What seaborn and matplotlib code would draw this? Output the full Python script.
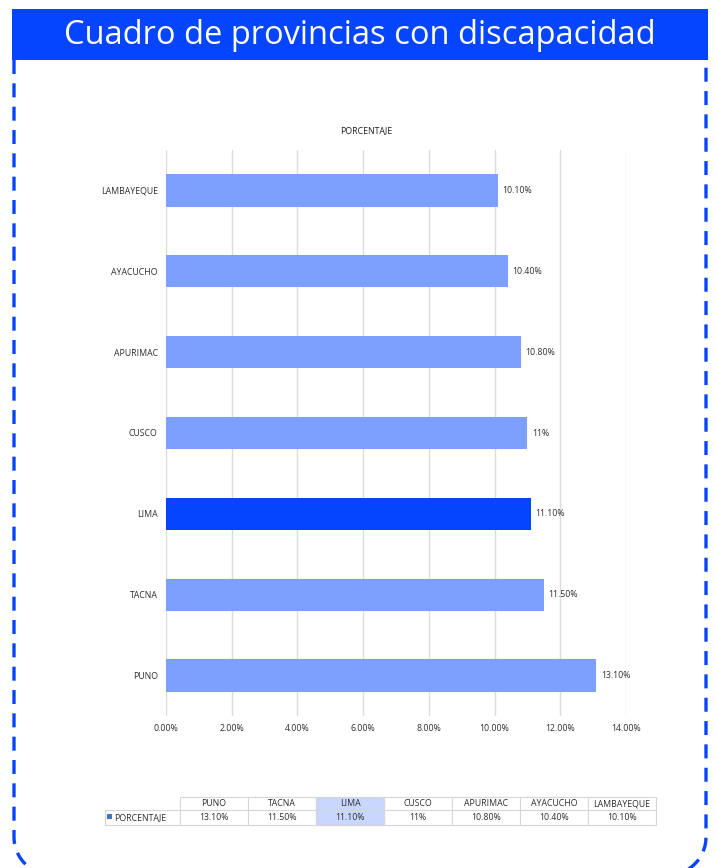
import matplotlib
matplotlib.use("Agg")
import matplotlib.pyplot as plt
from matplotlib.patches import Rectangle
import seaborn as sns
import pandas as pd
import numpy as np

# Provinces and share of population with disability (%)
provinces = ["PUNO", "TACNA", "LIMA", "CUSCO", "APURIMAC", "AYACUCHO", "LAMBAYEQUE"]
percentages = [13.10, 11.50, 11.10, 11.00, 10.80, 10.40, 10.10]
highlight = "LIMA"
x_ticks = [0, 2, 4, 6, 8, 10, 12, 14]

title = "Cuadro de provincias con discapacidad"
series_name = "PORCENTAJE"

BLUE = "#0645FF"
LIGHT = "#7DA0FF"
TEXT = "#2E2E2E"
FS = 6.3
W, H = 716, 868


def fmt(v):
    return f"{v:.0f}%" if float(v).is_integer() else f"{v:.2f}%"


sns.set_theme(style="white")
plt.rcParams["font.family"] = ["Open Sans", "DejaVu Sans"]

fig = plt.figure(figsize=(W / 100, H / 100), dpi=100)
fig.patch.set_facecolor("white")

# Full-figure pixel canvas for the frame, header and data table
canvas = fig.add_axes([0, 0, 1, 1], zorder=0)
canvas.set_xlim(0, W)
canvas.set_ylim(H, 0)
canvas.axis("off")

# Dashed frame with rounded bottom corners
left, right, ftop, fbot, r = 14, 706, 60, 875, 38
t1 = np.linspace(np.pi, np.pi / 2, 20)
t2 = np.linspace(np.pi / 2, 0, 20)
fx = np.concatenate([[left], left + r + r * np.cos(t1), right - r + r * np.cos(t2), [right]])
fy = np.concatenate([[ftop], fbot - r + r * np.sin(t1), fbot - r + r * np.sin(t2), [ftop]])
canvas.plot(fx, fy, color=BLUE, lw=2.4, linestyle=(0, (4.2, 2.8)),
            solid_capstyle="butt", clip_on=False, zorder=1)

canvas.add_patch(Rectangle((12, 9), 696, 51, facecolor=BLUE, edgecolor="none", zorder=2))
canvas.text(360, 35, title, color="white", fontsize=23.5,
            ha="center", va="center", zorder=3)

canvas.text(366, 131, series_name, color="#1E1E1E", fontsize=FS, ha="center", va="center")

# Bar chart
df = pd.DataFrame({"prov": provinces, "pct": percentages})
order = provinces[::-1]
palette = {p: (BLUE if p == highlight else LIGHT) for p in provinces}

ax = fig.add_axes([166 / W, 1 - 716 / H, (626 - 166) / W, (716 - 150) / H], zorder=2)
ax.set_facecolor("none")
sns.barplot(data=df, x="pct", y="prov", hue="prov", order=order, hue_order=order,
            palette=palette, width=0.4, orient="h", legend=False, ax=ax,
            saturation=1, linewidth=0)
ax.set_xlim(0, 14)
ax.set_ylim(len(order) - 0.5, -0.5)
ax.set_xticks(x_ticks)
ax.set_xticklabels([f"{t:.2f}%" for t in x_ticks])
ax.set_xlabel("")
ax.set_ylabel("")
ax.grid(axis="x", color="#DCDCDC", lw=1)
ax.set_axisbelow(True)
for s in ax.spines.values():
    s.set_visible(False)
ax.tick_params(axis="x", length=0, pad=6, labelsize=FS, labelcolor=TEXT)
ax.tick_params(axis="y", length=0, pad=6, labelsize=FS, labelcolor=TEXT)

for i, p in enumerate(order):
    v = df.loc[df.prov == p, "pct"].iloc[0]
    ax.annotate(fmt(v), (v, i), xytext=(3.5, 0), textcoords="offset points",
                ha="left", va="center", fontsize=FS, color=TEXT)

# Data table below the chart
col_left, col_w = 180, 68
top, mid, bot = 797, 810, 825
grid_c = "#D6D6D6"
hi_idx = provinces.index(highlight)
canvas.add_patch(Rectangle((col_left + hi_idx * col_w, top), col_w, bot - top,
                           facecolor="#C9D7FF", edgecolor="#A9BEF5", lw=0.8, zorder=1))
n = len(provinces)
canvas.plot([col_left, col_left + n * col_w], [top, top], color=grid_c, lw=0.8)
canvas.plot([105, col_left + n * col_w], [mid, mid], color=grid_c, lw=0.8)
canvas.plot([105, col_left + n * col_w], [bot, bot], color=grid_c, lw=0.8)
canvas.plot([105, 105], [mid, bot], color=grid_c, lw=0.8)
for k in range(n + 1):
    x = col_left + k * col_w
    canvas.plot([x, x], [top, bot], color=grid_c, lw=0.8)
for k, (p, v) in enumerate(zip(provinces, percentages)):
    cx = col_left + k * col_w + col_w / 2
    canvas.text(cx, (top + mid) / 2, p, fontsize=FS, color=TEXT, ha="center", va="center")
    canvas.text(cx, (mid + bot) / 2, fmt(v), fontsize=FS, color=TEXT, ha="center", va="center")
canvas.add_patch(Rectangle((107, 814), 5, 5, facecolor="#4472C4", edgecolor="none"))
canvas.text(114, (mid + bot) / 2, series_name, fontsize=FS, color=TEXT, ha="left", va="center")

fig.savefig("out.png", dpi=100, facecolor="white")
